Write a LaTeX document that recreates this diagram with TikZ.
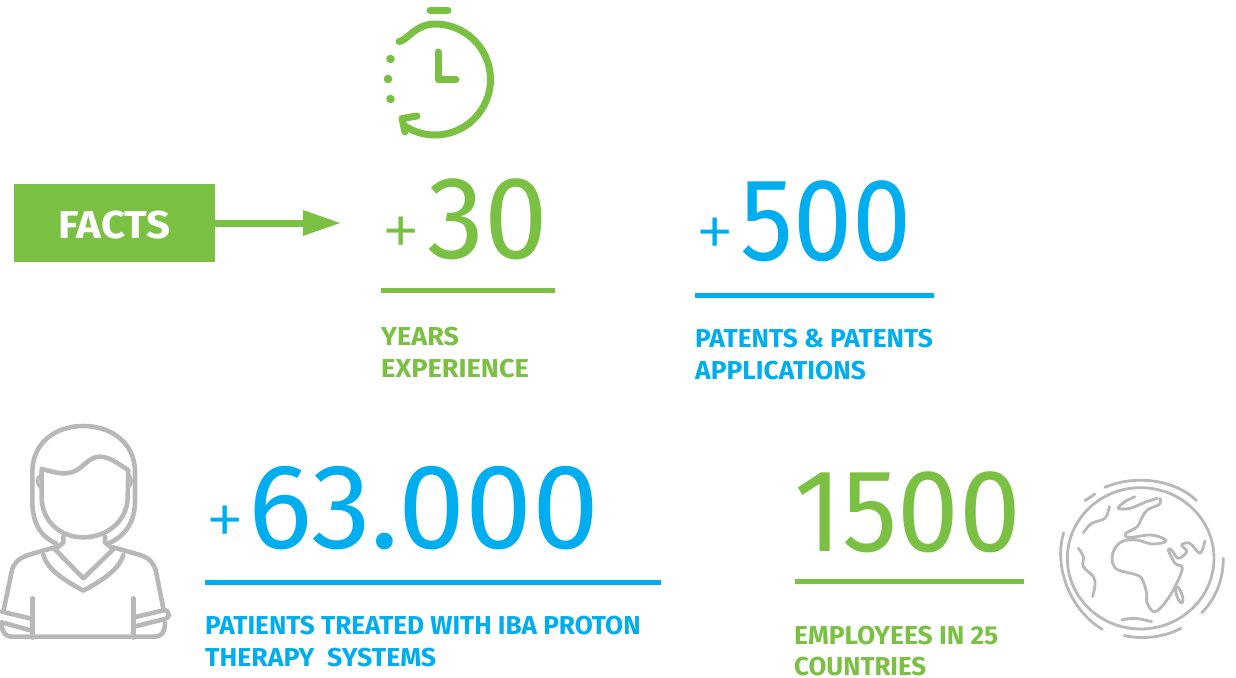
\documentclass[tikz,border=0pt]{standalone}
\usepackage{fontspec}
\setmainfont{Fira Sans}
\newfontfamily\thinnum{Fira Sans Light}
\definecolor{fgreen}{HTML}{7AC143}
\definecolor{fblue}{HTML}{00AEEF}
\definecolor{fgrey}{HTML}{B7B9B8}
\tikzset{
 lbl/.style={anchor=base west,inner sep=0pt,font=\fontsize{26}{26}\selectfont\bfseries},
 num/.style={anchor=base west,inner sep=0pt,font=\fontsize{118}{118}\selectfont},
 plus/.style={anchor=base west,inner sep=0pt,font=\thinnum\fontsize{80}{80}\selectfont},
 rulei/.style={line width=5bp},
 iconp/.style={draw=fgrey,line width=4.6bp,line cap=round,line join=round},
 icong/.style={draw=fgrey,line width=2.8bp,line cap=round,line join=round},
 clockl/.style={draw=fgreen,line width=7bp,line cap=round,line join=round}
}
\begin{document}
\begin{tikzpicture}[x=1bp,y=-1bp]
\useasboundingbox (0,0) rectangle (1236,678);
% facts
\node[fill=fgreen,minimum width=200bp,minimum height=78bp,inner sep=0pt,text=white,font=\fontsize{39}{39}\selectfont\bfseries] (facts) at (114.5,223) {\raisebox{-1bp}[30bp][0bp]{\scalebox{1.08}[1]{FACTS}}};
\coordinate (arrowtip) at (340,223);
\coordinate (arrowneck) at (303,223);
\draw[fgreen,line width=7bp] (facts.east) -- (arrowneck);
\fill[fgreen] (303,210) -- (arrowtip) -- (303,236) -- cycle;
% clock
\draw[clockl] (399,41.5) .. controls (407,41) and (415,24) .. (435,24) arc[start angle=270,end angle=484,radius=55.5];
\draw[clockl] (430,10.5) -- (448,10.5);
\draw[clockl] (438,52) -- (438,80) -- (456,80);
\fill[fgreen] (390.5,59) circle (4.3) (388,79) circle (4.3) (390.5,99) circle (4.3);
\draw[clockl] (417,116) -- (402,118.5) -- (405,132);
% numbers
\node[plus,text=fgreen] (p30) at (381,257) {+};
\node[num,text=fgreen] (n30) at (427,258) {\scalebox{0.97}[1]{30}};
\node[plus,text=fblue] (p500) at (695,258) {+};
\node[num,text=fblue] (n500) at (740,260) {\scalebox{0.9}[1]{500}};
\node[plus,text=fblue] (p63) at (205,546) {+};
\node[num,text=fblue] (n63) at (248,548) {\scalebox{1.02}[1.03]{63.000}};
\node[num,text=fgreen] (n1500) at (794,551) {\scalebox{0.94}[1]{1500}};
% rules
\draw[fgreen,rulei] (381,290.5) -- (555,290.5);
\draw[fblue,rulei] (695,295.5) -- (934,295.5);
\draw[fblue,rulei] (205,582.5) -- (661,582.5);
\draw[fgreen,rulei] (795,581) -- (1024,581);
% labels
\node[lbl,text=fgreen] (l1) at (381,345) {\scalebox{1.04}[1]{YEARS}};
\node[lbl,text=fgreen] (l2) at (381,377) {\scalebox{1.05}[1]{EXPERIENCE}};
\node[lbl,text=fblue] (l3) at (695,347) {\scalebox{1.015}[1]{PATENTS \& PATENTS}};
\node[lbl,text=fblue] (l4) at (695,379) {\scalebox{1.018}[1]{APPLICATIONS}};
\node[lbl,text=fblue] (l5) at (205,634) {\scalebox{1.01}[1]{PATIENTS TREATED WITH IBA PROTON}};
\node[lbl,text=fblue] (l6) at (205,666) {\scalebox{1.03}[1]{THERAPY\ \ SYSTEMS}};
\node[lbl,text=fgreen] (l7) at (794,644) {\scalebox{1.02}[1]{EMPLOYEES IN 25}};
\node[lbl,text=fgreen] (l8) at (794,675) {\scalebox{1.0}[1]{COUNTRIES}};
% person (zoom coordinates)
\begin{scope}[shift={(0,415)},x=0.3333bp,y=-0.3333bp]
\draw[iconp] (168,385) .. controls (120,365) and (97,320) .. (97,260) -- (97,170) .. controls (97,85) and (165,33) .. (250,33) .. controls (335,33) and (405,85) .. (405,170) -- (405,260) .. controls (405,320) and (375,365) .. (325,385);
\draw[iconp] (125,162) .. controls (160,170) and (185,182) .. (220,170) .. controls (250,160) and (265,125) .. (300,125) .. controls (330,125) and (360,150) .. (385,165) -- (383,250) .. controls (380,320) and (320,367) .. (250,367) .. controls (180,367) and (128,320) .. (125,250) -- cycle;
\draw[iconp,line width=3bp] (122,180) .. controls (108,190) and (108,205) .. (122,218);
\draw[iconp,line width=3bp] (385,180) .. controls (398,190) and (398,205) .. (385,218);
\draw[iconp] (190,365) -- (190,383) -- (165,403) -- (250,490) -- (340,403) -- (315,383) -- (315,365);
\draw[iconp] (165,397) -- (85,420) .. controls (55,430) and (40,445) .. (35,470) -- (10,590);
\draw[iconp] (340,397) -- (420,420) .. controls (450,430) and (462,445) .. (468,470) -- (490,580);
\draw[iconp] (130,420) .. controls (140,460) and (190,495) .. (250,527) .. controls (310,495) and (360,460) .. (370,420);
\draw[iconp] (5,625) .. controls (5,650) and (15,665) .. (35,665) -- (465,665) .. controls (485,665) and (495,650) .. (495,625);
\draw[iconp] (98,550) -- (98,668);
\draw[iconp] (400,550) -- (400,668);
\draw[iconp] (98,612) -- (5,590);
\draw[iconp] (98,648) -- (5,622);
\draw[iconp] (402,607) -- (495,585) .. controls (510,590) and (510,610) .. (495,612) -- (402,635);
\end{scope}
% globe (zoom coordinates)
\begin{scope}[shift={(1050,470)},x=0.3333bp,y=-0.3333bp]
\draw[icong] (272,265) ellipse (220 and 212);
\draw[icong] (165,52) .. controls (250,15) and (370,25) .. (440,92);
\draw[icong] (105,92) -- (135,72);
\draw[icong] (41,188) .. controls (10,290) and (60,420) .. (157,478);
\draw[icong] (520,265) .. controls (520,330) and (495,390) .. (455,428);
\draw[icong] (222,497) .. controls (285,510) and (345,500) .. (393,475);
\draw[icong] plot[smooth,tension=0.6] coordinates {(330,85) (328,103) (292,120) (272,150) (262,170) (225,192) (240,202) (300,195) (340,205) (345,216) (305,222) (260,210) (215,215) (190,245) (188,280) (205,300) (250,312) (275,325) (290,370) (290,395) (310,425) (335,410) (370,360) (397,295) (375,280) (355,240) (365,240) (385,265) (410,245) (395,225) (420,220) (450,250) (465,213)};
\draw[icong] (388,375) ellipse [x radius=8,y radius=25,rotate=18];
\draw[icong] plot[smooth,tension=0.6] coordinates {(100,188) (125,160) (165,145) (178,110)};
\draw[icong] plot[smooth,tension=0.6] coordinates {(255,80) (225,95) (205,115) (240,115) (290,95) (322,85)};
\draw[icong] plot[smooth,tension=0.6] coordinates {(85,235) (100,260) (100,290) (130,320) (135,345) (128,380)};
\draw[icong] plot[smooth,tension=0.6] coordinates {(215,450) (255,445) (305,455)};
\end{scope}
\end{tikzpicture}
\end{document}
